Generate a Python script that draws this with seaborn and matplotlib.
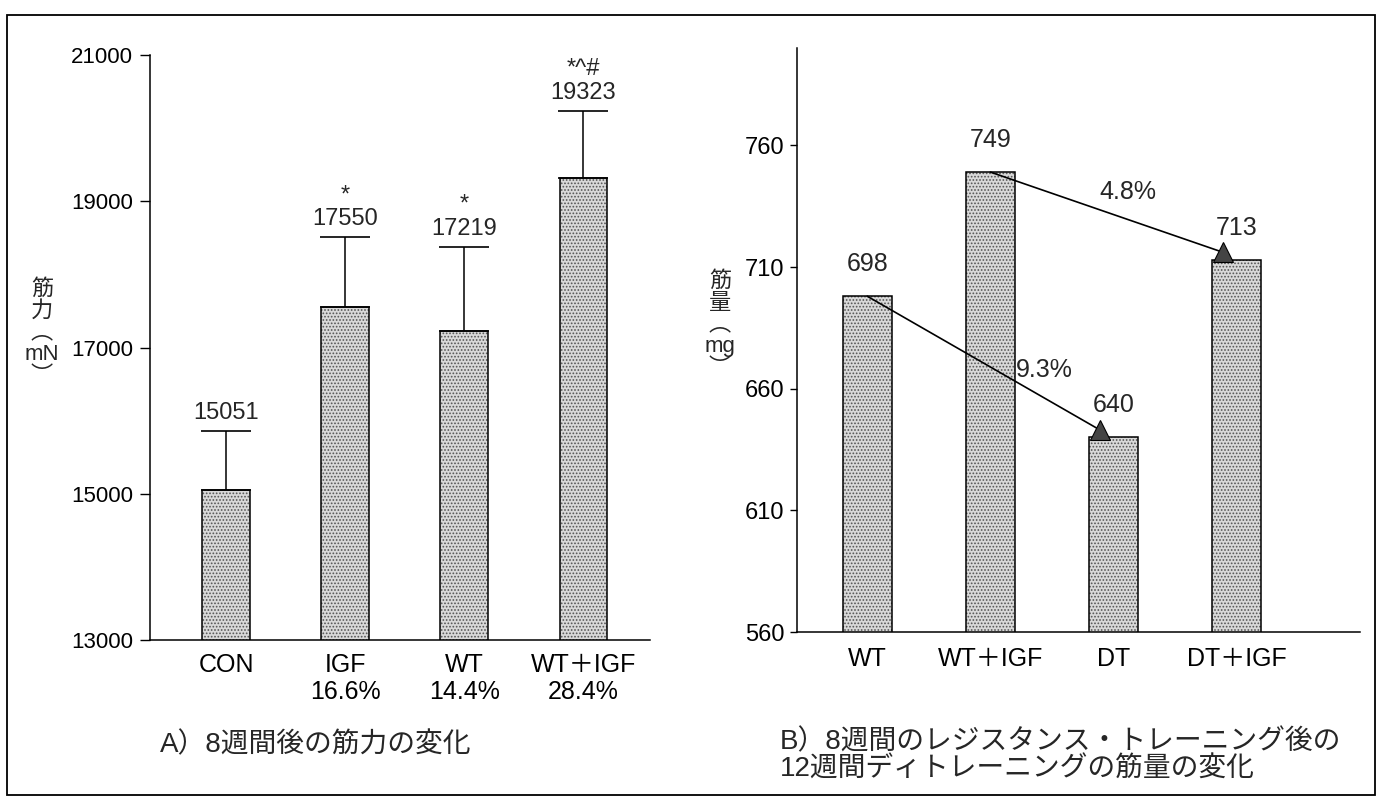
import numpy as np
import matplotlib
matplotlib.use('Agg')
import matplotlib.pyplot as plt
import seaborn as sns

# A) strength after 8 weeks
groups_a = ['CON', 'IGF', 'WT', 'WT＋IGF']
strength = [15051, 17550, 17219, 19323]
strength_sd = [810, 960, 1160, 910]
pct_a = ['', '16.6%', '14.4%', '28.4%']
marks_a = ['', '*', '*', '*^#']
yticks_a = [13000, 15000, 17000, 19000, 21000]

# B) muscle mass after detraining
groups_b = ['WT', 'WT＋IGF', 'DT', 'DT＋IGF']
mass = [698, 749, 640, 713]
yticks_b = [560, 610, 660, 710, 760]
arrow_from = [0, 1]
arrow_to = [2, 3]
arrow_pct = ['9.3%', '4.8%']

sns.set_theme(style='white')
plt.rcParams['font.family'] = ['Liberation Sans', 'Noto Sans CJK JP', 'DejaVu Sans']
plt.rcParams['hatch.linewidth'] = 0.8

W, H = 1385, 802
fig = plt.figure(figsize=(W / 100, H / 100), dpi=100)

def px(x0, y0, x1, y1):
    # pixel box -> figure fraction rect
    return [x0 / W, 1 - y1 / H, (x1 - x0) / W, (y1 - y0) / H]

def stipple_bars(ax, x, y, width):
    sns.barplot(x=x, y=y, ax=ax, color='#d9d9d9', edgecolor='#555555',
                linewidth=0, hatch='.....', width=width)
    sns.barplot(x=x, y=y, ax=ax, color='black', fill=False, linewidth=1.1, width=width)

# ---------------- panel A ----------------
ax1 = fig.add_axes(px(150, 55, 650, 640))
stipple_bars(ax1, groups_a, strength, 0.4)
xa = np.arange(len(groups_a))
ax1.errorbar(xa, strength, yerr=[np.zeros(len(xa)), strength_sd], fmt='none',
             ecolor='black', elinewidth=1.1, capsize=18, capthick=1.2)
ax1.set_ylim(13000, 21000)
ax1.set_xlim(-0.64, 3.56)
ax1.set_yticks(yticks_a)
ax1.set_xticks(xa)
ax1.set_xticklabels([g if p == '' else g + '\n' + p for g, p in zip(groups_a, pct_a)],
                    linespacing=1.2)
ax1.tick_params(axis='y', left=True, length=7, width=1, labelsize=16, pad=5, color='black')
ax1.tick_params(axis='x', bottom=False, labelsize=18, pad=3)
for i, v in enumerate(strength):
    top = v + strength_sd[i]
    ax1.annotate(f'{v}', (i, top), xytext=(0, 13), textcoords='offset points',
                 ha='center', va='center', fontsize=17)
    if marks_a[i]:
        ax1.annotate(marks_a[i], (i, top), xytext=(0, 30), textcoords='offset points',
                     ha='center', va='center', fontsize=17)
ax1.set_xlabel('')
ax1.set_ylabel('')

# ---------------- panel B ----------------
ax2 = fig.add_axes(px(797, 48, 1360, 632))
stipple_bars(ax2, groups_b, mass, 0.4)
xb = np.arange(len(groups_b))
ax2.set_ylim(560, 800)
ax2.set_xlim(-0.57, 4.0)
ax2.set_yticks(yticks_b)
ax2.set_xticks(xb)
ax2.set_xticklabels(groups_b)
ax2.tick_params(axis='y', left=True, length=5, width=1, labelsize=17, pad=4, color='black')
ax2.tick_params(axis='x', bottom=False, labelsize=18, pad=5)
for i, v in enumerate(mass):
    ax2.annotate(f'{v}', (i, v), xytext=(0, 23), textcoords='offset points',
                 ha='center', va='center', fontsize=18)
for a, b, t, frac in zip(arrow_from, arrow_to, arrow_pct, [0.75, 0.58]):
    x0, y0 = a, mass[a]
    x1, y1 = b - 0.11, mass[b] + 3
    ax2.plot([x0, x1], [y0, y1], color='black', lw=1.2)
    ax2.plot([x1], [y1], marker='^', ms=14, color='#444444', mec='black', mew=0.8)
    xm, ym = x0 + (x1 - x0) * frac, y0 + (y1 - y0) * frac
    ax2.annotate(t, (xm, ym), xytext=(2, 19), textcoords='offset points',
                 ha='center', va='center', fontsize=18)
ax2.set_xlabel('')
ax2.set_ylabel('')

for ax in (ax1, ax2):
    sns.despine(ax=ax)
    for s in ('left', 'bottom'):
        ax.spines[s].set_color('black')
        ax.spines[s].set_linewidth(1.1)
    ax.tick_params(colors='black')

# vertical y labels
fig.text(42 / W, 1 - 333 / H, '筋\n力\n︵\nmN\n︶', ha='center', va='center',
         fontsize=16, linespacing=1.05)
fig.text(720 / W, 1 - 325 / H, '筋\n量\n︵\nmg\n︶', ha='center', va='center',
         fontsize=16, linespacing=1.05)

# panel captions
fig.text(160 / W, 1 - 745 / H, 'A）8週間後の筋力の変化', ha='left', va='center', fontsize=20)
fig.text(780 / W, 1 - 756 / H, 'B）8週間のレジスタンス・トレーニング後の\n12週間ディトレーニングの筋量の変化',
         ha='left', va='center', fontsize=20, linespacing=1.05)

# outer frame
fig.add_artist(plt.Rectangle((7 / W, 1 - 795 / H), 1368 / W, 780 / H, transform=fig.transFigure,
                             fill=False, lw=1.3, ec='black'))

fig.savefig('out.png', dpi=100, facecolor='white')
